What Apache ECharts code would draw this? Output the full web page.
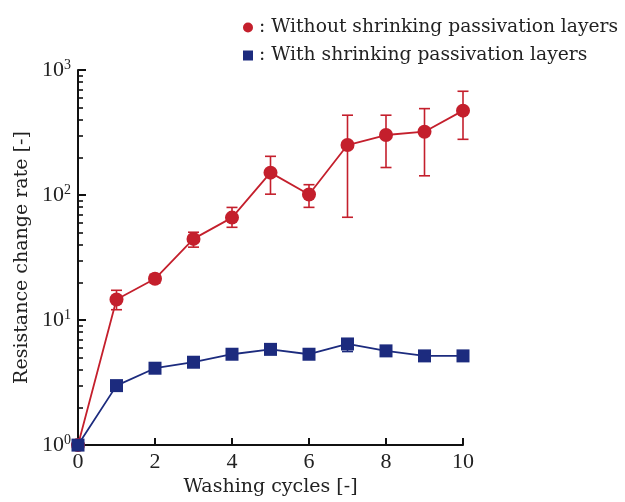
<!DOCTYPE html>
<html><head><meta charset="utf-8">
<script src="https://cdn.jsdelivr.net/npm/echarts@6/dist/echarts.min.js"></script>
<style>html,body{margin:0;padding:0;background:#fff}#c{width:625px;height:502px}</style>
</head><body><div id="c"></div>
<script>
const cycles = [0,1,2,3,4,5,6,7,8,9,10];
const withoutVals = [1, 14.6, 21.4, 44.6, 66, 151, 101, 251, 302, 321, 473];
const withoutLow  = [1, 12.1, 19.8, 38.3, 55.2, 101.6, 79.7, 66.4, 166, 142.5, 279];
const withoutHigh = [1, 17.3, 23.2, 50.4, 79.6, 204, 121, 435, 435, 491, 676];
const withVals = [1, 2.99, 4.12, 4.60, 5.33, 5.83, 5.33, 6.44, 5.67, 5.17, 5.17];
const withLow  = [1, 2.99, 4.12, 4.60, 5.33, 5.83, 5.33, 5.6, 5.67, 5.17, 5.17];
const withHigh = [1, 2.99, 4.12, 4.60, 5.33, 5.83, 5.33, 7.0, 5.67, 5.17, 5.17];
const majorTicks = [1, 10, 100, 1000];
const minorTicks = [2,3,4,5,6,7,8,9,20,30,40,50,60,70,80,90,200,300,400,500,600,700,800,900];
const xTicks = [0,2,4,6,8,10];
const seriesNames = [': Without shrinking passivation layers', ': With shrinking passivation layers'];

const RED = '#c41f2c', BLUE = '#1c2b7e';
const FONT = 'Liberation Serif';
const TFONT = 'DejaVu Serif';
const chart = echarts.init(document.getElementById('c'));

function errData(lo, hi) { return cycles.map((c,i)=>[c, lo[i], hi[i]]); }
function errSeries(lo, hi, color) {
  return {
    type: 'custom', z: 1,
    data: errData(lo, hi),
    renderItem: function(params, api) {
      const x = api.value(0), l = api.value(1), h = api.value(2);
      if (h / l < 1.02) return null;
      const pl = api.coord([x, l]), ph = api.coord([x, h]);
      const w = 5.5;
      const st = {stroke: color, lineWidth: 1.6};
      return {type: 'group', children: [
        {type:'line', shape:{x1:pl[0],y1:pl[1],x2:ph[0],y2:ph[1]}, style:st},
        {type:'line', shape:{x1:pl[0]-w,y1:pl[1],x2:pl[0]+w,y2:pl[1]}, style:st},
        {type:'line', shape:{x1:ph[0]-w,y1:ph[1],x2:ph[0]+w,y2:ph[1]}, style:st}
      ]};
    }
  };
}
chart.setOption({
  animation: false,
  textStyle: {fontFamily: FONT},
  legend: {
    orient: 'vertical', left: 238, top: 13, itemGap: 9,
    itemWidth: 10, itemHeight: 10,
    textStyle: {fontFamily: TFONT, fontSize: 18.7, color: '#222', padding: [0,0,0,1]},
    data: [
      {name: seriesNames[0], icon: 'circle', itemStyle:{color: RED}},
      {name: seriesNames[1], icon: 'rect', itemStyle:{color: BLUE}}
    ]
  },
  grid: {left: 78, right: 162, top: 70, bottom: 51, containLabel: false},
  xAxis: {
    type: 'value', min: 0, max: 10, interval: 2,
    name: 'Washing cycles [-]', nameLocation: 'middle', nameGap: 31,
    nameTextStyle: {fontFamily: TFONT, fontSize: 19, color: '#222'},
    axisLine: {lineStyle: {color: '#111', width: 2}},
    axisTick: {inside: true, length: 7, lineStyle: {color: '#111', width: 2}},
    axisLabel: {fontFamily: FONT, fontSize: 22, color: '#222', margin: 6},
    splitLine: {show: false}
  },
  yAxis: [{
    type: 'log', logBase: 10, min: 1, max: 1000,
    name: 'Resistance change rate [-]', nameLocation: 'middle', nameGap: 35,
    nameTextStyle: {fontFamily: TFONT, fontSize: 19, color: '#222'},
    axisLine: {lineStyle: {color: '#111', width: 2}},
    axisTick: {inside: true, length: 8, lineStyle: {color: '#111', width: 2}, customValues: majorTicks},
    axisLabel: {fontFamily: FONT, fontSize: 22, color: '#222', margin: 7, customValues: majorTicks,
      formatter: function(v){ const e = Math.round(Math.log10(v)); return '{b|10}{s|' + e + '}'; },
      rich: {b:{fontFamily: FONT, fontSize: 22, color:'#222'}, s:{fontFamily: FONT, fontSize: 14, color:'#222', verticalAlign:'top', padding:[0,0,10,0]}}
    },
    splitLine: {show: false}
  }, {
    type: 'log', logBase: 10, min: 1, max: 1000, position: 'left',
    axisLine: {show: false},
    axisTick: {inside: true, length: 5, lineStyle: {color: '#111', width: 1.6}, customValues: minorTicks},
    axisLabel: {show: false},
    splitLine: {show: false}
  }],
  series: [
    errSeries(withoutLow, withoutHigh, RED),
    errSeries(withLow, withHigh, BLUE),
    {
      name: seriesNames[0], type: 'line', z: 3,
      data: cycles.map((c,i)=>[c, withoutVals[i]]),
      symbol: 'circle', symbolSize: 14,
      lineStyle: {color: RED, width: 1.8}, itemStyle: {color: RED}
    },
    {
      name: seriesNames[1], type: 'line', z: 4,
      data: cycles.map((c,i)=>[c, withVals[i]]),
      symbol: 'rect', symbolSize: 13,
      lineStyle: {color: BLUE, width: 1.8}, itemStyle: {color: BLUE}
    }
  ]
});
</script></body></html>
